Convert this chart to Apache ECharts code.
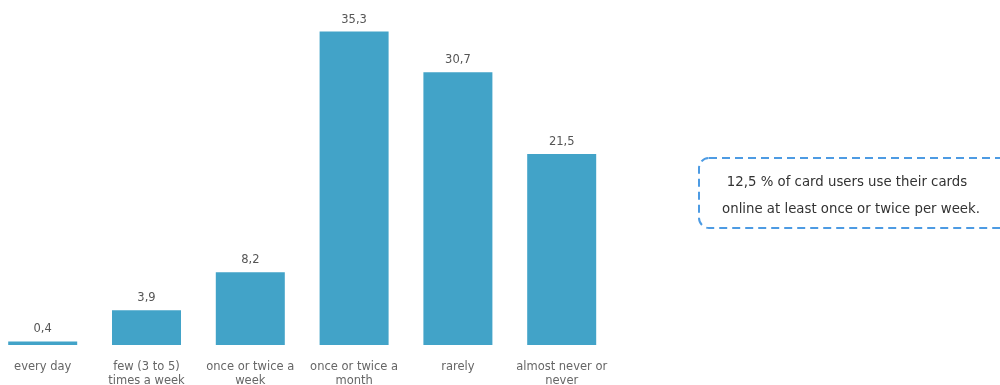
<!DOCTYPE html>
<html>
<head>
<meta charset="utf-8">
<script src="https://cdn.jsdelivr.net/npm/echarts@6/dist/echarts.min.js"></script>
<style>
  html, body { margin: 0; padding: 0; background: #fff; }
  #chart { width: 1000px; height: 385px; }
</style>
</head>
<body>
<div id="chart"></div>
<script>
  var categories = [
    "every day",
    "few (3 to 5)\ntimes a week",
    "once or twice a\nweek",
    "once or twice a\nmonth",
    "rarely",
    "almost never or\nnever"
  ];
  var shares = [0.4, 3.9, 8.2, 35.3, 30.7, 21.5];
  var noteLines = [
    "12,5 % of card users use their cards",
    "online at least once or twice per week."
  ];

  var font = "'DejaVu Sans', sans-serif";
  var myChart = echarts.init(document.getElementById("chart"));

  var option = {
    animation: false,
    grid: {
      left: 42.7,
      top: 0,
      width: 519,
      height: 345,
      outerBoundsMode: "none"
    },
    xAxis: {
      type: "category",
      data: categories,
      boundaryGap: false,
      axisLine: { show: false },
      axisTick: { show: false },
      axisLabel: {
        color: "#666",
        fontFamily: font,
        fontSize: 11.5,
        lineHeight: 14,
        margin: 15,
        interval: 0
      }
    },
    yAxis: {
      type: "value",
      min: 0,
      max: 38.85,
      show: false,
      splitLine: { show: false }
    },
    series: [
      {
        type: "bar",
        data: shares,
        barWidth: 69,
        clip: false,
        itemStyle: { color: "#42a3c8" },
        label: {
          show: true,
          position: "top",
          distance: 6,
          color: "#555",
          fontFamily: font,
          fontSize: 11.5,
          formatter: function (p) {
            return String(p.value).replace(".", ",");
          }
        }
      }
    ],
    graphic: [
      {
        type: "rect",
        shape: { x: 699, y: 158, width: 320, height: 70, r: 10 },
        style: {
          fill: "none",
          stroke: "#4d9be3",
          lineWidth: 2,
          lineDash: [8, 5]
        }
      },
      {
        type: "text",
        x: 847,
        y: 183,
        style: {
          text: noteLines[0],
          fill: "#333",
          font: "13.3px " + font,
          align: "center",
          verticalAlign: "middle"
        }
      },
      {
        type: "text",
        x: 851,
        y: 210,
        style: {
          text: noteLines[1],
          fill: "#333",
          font: "13.3px " + font,
          align: "center",
          verticalAlign: "middle"
        }
      }
    ]
  };

  myChart.setOption(option);
</script>
</body>
</html>
